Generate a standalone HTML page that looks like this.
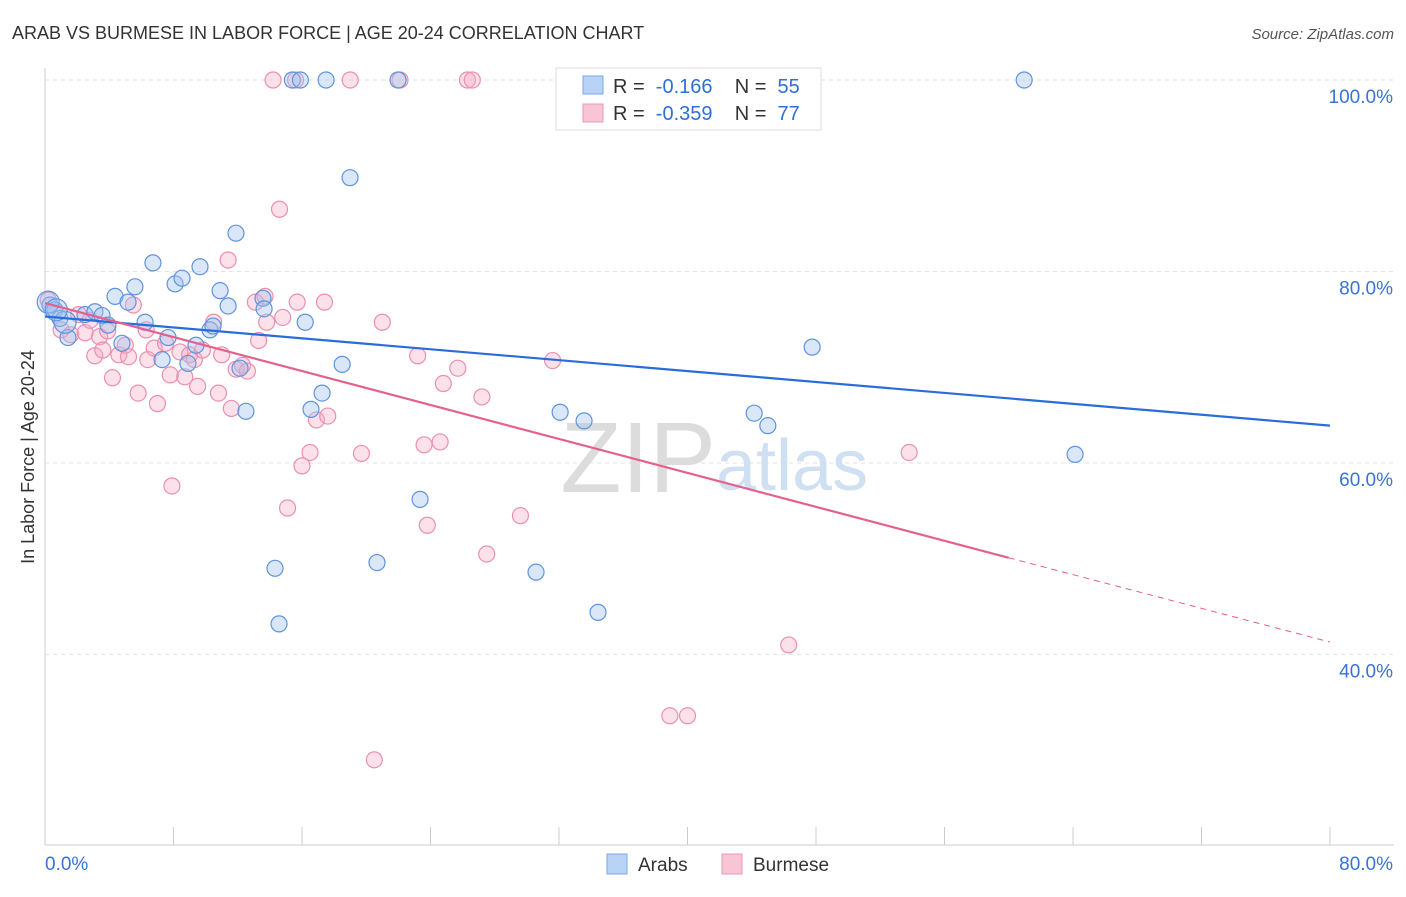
<!DOCTYPE html>
<html><head><meta charset="utf-8"><style>
body{margin:0;background:#fff;font-family:"Liberation Sans",sans-serif;}
svg text{font-family:"Liberation Sans",sans-serif;}
</style></head><body>
<svg id="chart" width="1406" height="892">
<text x="12" y="39" font-size="18" fill="#333">ARAB VS BURMESE IN LABOR FORCE | AGE 20-24 CORRELATION CHART</text>
<text x="1394" y="39" font-size="15" fill="#555" text-anchor="end" font-style="italic">Source: ZipAtlas.com</text>
<g id="grid"></g>
<text x="716" y="492" font-size="100" fill="#dcdcdc" text-anchor="end" font-family="Liberation Serif">ZIP</text>
<text x="716" y="490" font-size="72" fill="#cfe0f3">atlas</text>
<g id="pts"></g>
<g id="lines"></g>
<text transform="translate(34,457) rotate(-90)" font-size="18" fill="#333" text-anchor="middle">In Labor Force | Age 20-24</text>
<g>
<rect x="556" y="68" width="265" height="62" fill="#fff" stroke="#ddd"/>
<rect x="583" y="76" width="20" height="18" fill="#b8d3f5" stroke="#7aa8e6"/>
<rect x="583" y="104" width="20" height="18" fill="#f8c5d5" stroke="#ec97b3"/>
<text x="613" y="93" font-size="20" fill="#333" xml:space="preserve">R =  <tspan fill="#2f6fd6">-0.166</tspan>    N =  <tspan fill="#2f6fd6">55</tspan></text>
<text x="613" y="120" font-size="20" fill="#333" xml:space="preserve">R =  <tspan fill="#2f6fd6">-0.359</tspan>    N =  <tspan fill="#2f6fd6">77</tspan></text>
</g>
<g>
<rect x="607" y="854" width="20" height="20" fill="#b8d3f5" stroke="#7aa8e6"/>
<text x="638" y="871" font-size="19" fill="#333">Arabs</text>
<rect x="722" y="854" width="20" height="20" fill="#f8c5d5" stroke="#ec97b3"/>
<text x="753" y="871" font-size="19" fill="#333">Burmese</text>
</g>
</svg>
<script>
const yTicks=[40,60,80,100];
const xTickLabels=["0.0%","80.0%"];
const blueX=[0.31,0.62,0.93,1.43,2.49,3.11,3.55,3.92,4.36,4.79,5.17,5.6,6.23,6.72,7.29,7.66,8.1,8.53,8.9,9.4,9.65,10.27,10.46,10.9,11.4,11.89,12.14,12.51,13.57,13.64,14.32,14.57,15.4,15.9,16.2,16.56,17.25,17.5,18.5,18.99,20.67,21.98,23.35,30.57,32.07,33.56,34.43,44.15,45.0,47.76,60.96,64.13,0.2,1.25,0.7];
const blueY=[76.5,76.0,75.1,73.1,75.5,75.8,75.4,74.4,77.4,72.5,76.8,78.4,74.7,80.9,70.8,73.1,78.7,79.3,70.4,72.3,80.5,73.9,74.3,78.0,76.4,84.0,69.9,65.4,77.2,76.1,49.0,43.2,100,100,74.7,65.6,67.3,100,70.3,89.8,49.6,100,56.2,48.6,65.3,64.4,44.4,65.2,63.9,72.1,100,60.9,76.8,74.7,76.0];
const pinkX=[0.2,0.6,1.0,1.6,2.1,2.5,2.8,3.1,3.4,3.6,3.9,4.2,4.6,5.0,5.2,5.5,5.8,6.3,6.4,6.8,7.0,7.5,7.8,7.9,8.4,8.7,9.0,9.3,9.5,9.8,10.5,10.8,11.0,11.4,11.6,11.9,12.3,12.6,13.1,13.3,13.7,13.8,14.2,14.6,14.8,15.1,15.6,15.7,16.0,16.5,16.9,17.4,17.6,19.0,19.7,21.0,22.1,23.2,23.6,23.8,24.6,24.8,25.7,26.3,26.6,27.2,27.5,29.6,31.6,38.9,40.0,46.3,53.8,20.5];
const pinkY=[77.0,76.0,73.9,73.4,75.5,73.6,74.9,71.2,73.2,71.8,73.8,68.9,71.3,72.3,71.1,76.5,67.3,73.9,70.8,72.0,66.2,72.5,69.2,57.6,71.6,69.0,71.3,70.8,68.0,71.8,74.7,67.3,71.3,81.2,65.7,69.8,70.2,69.6,76.8,72.8,77.4,74.7,100,86.5,75.2,55.3,100,76.8,59.7,61.1,64.5,76.8,64.9,100,61.0,74.7,100,71.2,61.9,53.5,62.2,68.3,69.9,100,100,66.9,50.5,54.5,70.7,33.6,33.6,41.0,61.1,29.0];
const blueLine=[0,75.3,80,63.9];
const pinkLine=[0,76.7,60,50.1,80,41.3];
const NS="http://www.w3.org/2000/svg";
const x0=45,x1=1330,yTop=80,yBot=845;
const sx=v=>x0+(v/80)*(x1-x0);
const sy=v=>yTop+(100-v)/20*191.5;
function mk(t,a,p){const e=document.createElementNS(NS,t);for(const k in a)e.setAttribute(k,a[k]);p.appendChild(e);return e;}
const grid=document.getElementById('grid');
mk('line',{x1:x0,y1:yTop-12,x2:x0,y2:yBot,stroke:'#ccc'},grid);
mk('line',{x1:x0,y1:yBot,x2:1394,y2:yBot,stroke:'#ccc'},grid);
yTicks.forEach(t=>{
 const l=mk('line',{x1:x0,y1:sy(t),x2:1394,y2:sy(t),stroke:'#e2e2e2','stroke-dasharray':'4,4'},grid);
 
 
 const tx=mk('text',{x:1393,y:sy(t)+23,'font-size':19,fill:'#3a73d2','text-anchor':'end'},grid);
 tx.textContent=t.toFixed(1)+'%';
 
 
});
for(let i=1;i<=10;i++){const x=sx(i*8);mk('line',{x1:x,y1:yBot,x2:x,y2:yBot-18,stroke:'#ccc'},grid);}
const xl0=mk('text',{x:45,y:870,'font-size':19,fill:'#3a73d2'},grid);xl0.textContent=xTickLabels[0];


const xl1=mk('text',{x:1393,y:870,'font-size':19,fill:'#3a73d2','text-anchor':'end'},grid);xl1.textContent=xTickLabels[1];


const pts=document.getElementById('pts');
pinkX.forEach((v,i)=>{const c=mk('circle',{cx:sx(v),cy:sy(pinkY[i]),r:8,fill:'rgba(245,170,195,0.35)',stroke:'#eb8fae','stroke-width':1.2},pts);
 
 });
blueX.forEach((v,i)=>{const r=i>=52?11:8;const c=mk('circle',{cx:sx(v),cy:sy(blueY[i]),r:r,fill:'rgba(160,195,240,0.4)',stroke:'#5f93df','stroke-width':1.2},pts);
 
 });
const ln=document.getElementById('lines');
const b=mk('line',{x1:sx(blueLine[0]),y1:sy(blueLine[1]),x2:sx(blueLine[2]),y2:sy(blueLine[3]),stroke:'#2a6dd9','stroke-width':2.2},ln);


const p1=mk('line',{x1:sx(pinkLine[0]),y1:sy(pinkLine[1]),x2:sx(pinkLine[2]),y2:sy(pinkLine[3]),stroke:'#e4608e','stroke-width':2.2},ln);


const p2=mk('line',{x1:sx(pinkLine[2]),y1:sy(pinkLine[3]),x2:sx(pinkLine[4]),y2:sy(pinkLine[5]),stroke:'#e4608e','stroke-width':1,'stroke-dasharray':'6,5'},ln);


</script>
</body></html>
